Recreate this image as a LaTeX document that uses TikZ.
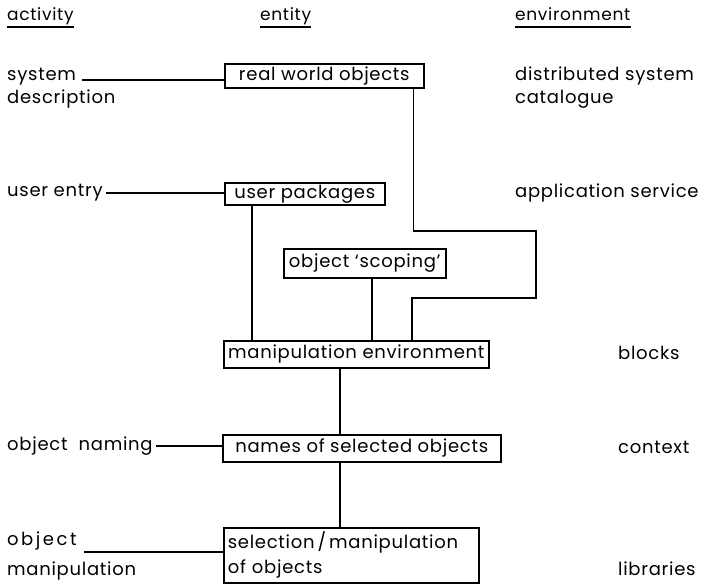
\documentclass[tikz,border=0pt]{standalone}
\usepackage{fontspec}
\setmainfont[LetterSpace=4]{Poppins}
\newcommand\lblfont{\fontsize{18}{25}\selectfont}
\newcommand\headfont{\fontsize{17}{20}\selectfont}
\newcommand\widespaced{\addfontfeatures{LetterSpace=14}}
\begin{document}
\begin{tikzpicture}[x=1pt,y=-1pt,
  entitybox/.style={draw, line width=1.6pt, anchor=north west, inner sep=0pt, font=\lblfont},
  lbl/.style={anchor=base west, inner sep=0pt, font=\lblfont},
  headlbl/.style={anchor=base west, inner sep=0pt, font=\headfont},
  conn/.style={line width=1.6pt},
  rule/.style={line width=2pt}]
\useasboundingbox (0,0) rectangle (721,584);

% column headings
\node[headlbl] (hact) at (7,20) {activity};
\node[headlbl] (hent) at (260,20) {entity};
\node[headlbl] (henv) at (515,20) {environment};
\draw[rule] ([yshift=-7pt]hact.base west) -- ([yshift=-7pt]hact.base east);
\draw[rule] ([yshift=-7pt]hent.base west) -- ([yshift=-7pt]hent.base east);
\draw[rule] ([yshift=-7pt]henv.base west) -- ([yshift=-7pt]henv.base east);

% entity boxes
\node[entitybox, minimum width=199pt, minimum height=24pt] (rwo) at (224,63) {real world objects};
\node[entitybox, minimum width=160pt, minimum height=22pt] (up) at (224,182) {user packages};
\node[entitybox, minimum width=162pt, minimum height=29pt] (sc) at (283,248) {object `scoping'};
\node[entitybox, minimum width=265pt, minimum height=27pt] (me) at (223,340) {manipulation environment};
\node[entitybox, minimum width=278pt, minimum height=27pt] (nm) at (222,434) {names of selected objects};
\node[entitybox, text width=247pt, inner xsep=4pt, minimum height=55pt, align=left] (sel) at (223,527) {selection\,/\,manipulation\\of objects};

% activities
\node[lbl] (sys) at (7,80) {system};
\node[lbl] (desc) at (7,103) {description};
\node[lbl, anchor=west] (ue) at (7,193) {user entry};
\node[lbl, anchor=west] (on) at (7,446) {object\ \ naming};
\node[lbl] (obj) at (7,545) {\widespaced object};
\node[lbl] (manip) at (7,575) {manipulation};
\coordinate (omstart) at (84,552);

% environments
\node[lbl] (dsc) at (515,80) {distributed system};
\node[lbl] (cat) at (515,103) {catalogue};
\node[lbl, anchor=west] (as) at (515,193) {application service};
\node[lbl, anchor=west] (blk) at (618,353) {blocks};
\node[lbl, anchor=west] (ctx) at (618,447) {context};
\node[lbl] (lib) at (618,575) {libraries};

% activity connectors
\draw[conn] ([xshift=6pt]sys.base east) -- (sys.base east -| rwo.west);
\draw[conn] ([xshift=3pt]ue.east) -- (ue.east -| up.west);
\draw[conn] ([xshift=3pt]on.east) -- (on.east -| nm.west);
\draw[conn] (omstart) -- (omstart -| sel.west);

% entity connectors
\coordinate (turnA) at (536,231);
\coordinate (turnB) at (536,298);
\draw[conn] ([xshift=28pt]up.south west) -- ([xshift=29pt]me.north west);
\draw[conn] ([xshift=89pt]sc.south west) -- ([xshift=149pt]me.north west);
\draw[conn] ([xshift=-11pt]rwo.south east) |- (turnA) -- (turnB) -| ([xshift=189pt]me.north west);
\draw[conn] ([xshift=117pt]me.south west) -- ([xshift=118pt]nm.north west);
\draw[conn] ([xshift=118pt]nm.south west) -- ([xshift=117pt]sel.north west);
\end{tikzpicture}
\end{document}
